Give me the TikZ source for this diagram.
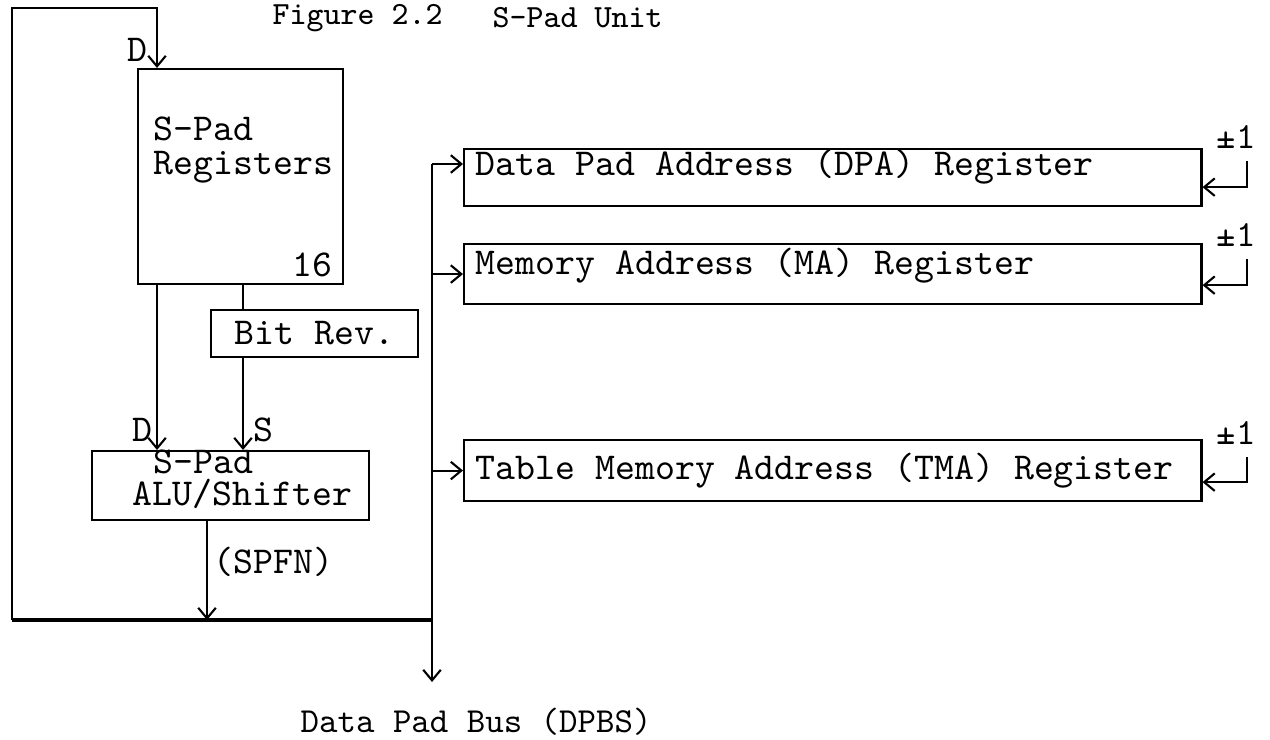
\documentclass[tikz,border=0pt]{standalone}
\usetikzlibrary{arrows.meta,positioning,calc}
\tikzset{
  blk/.style={draw,line width=0.6pt,anchor=north west,inner sep=0pt,
    font=\ttfamily\fontsize{10.8}{12}\selectfont},
  lbl/.style={font=\ttfamily\fontsize{#1}{#1}\selectfont,inner sep=0pt},
  lbl/.default=10.8,
  wire/.style={line width=0.6pt},
  bus/.style={line width=1.3pt}
}

\begin{document}
\begin{tikzpicture}[x=0.01cm,y=-0.01cm,>={Straight Barb[length=3pt,width=5pt]}]
  \useasboundingbox (0,0) rectangle (1270,740);
  % S-Pad side
  \node[blk,minimum width=2.05cm,minimum height=2.15cm] (reg) at (137,68) {};
  \node[blk,minimum width=2.07cm,minimum height=0.47cm] (bitrev) at (210,309) {Bit Rev.};
  \node[blk,minimum width=2.77cm,minimum height=0.69cm] (alu) at (91,450) {};
  \node[lbl,anchor=west,align=left,font=\ttfamily\fontsize{10.8}{9.7}\selectfont]
    (regT) at (153,150) {S-Pad\\Registers};
  \node[lbl,anchor=east] (regN) at (333,265) {16};
  \node[lbl,anchor=west,align=left,font=\ttfamily\fontsize{10.8}{9.1}\selectfont]
    (aluT) at (132,479) {\hspace*{0.21cm}S-Pad\\ALU/Shifter};
  % address registers
  \node[blk,minimum width=7.37cm,minimum height=0.57cm] (dpa) at (463,148) {};
  \node[blk,minimum width=7.37cm,minimum height=0.60cm] (ma) at (463,243) {};
  \node[blk,minimum width=7.37cm,minimum height=0.61cm] (tma) at (463,439) {};
  \node[lbl,anchor=west] (dpaT) at (475,167) {Data Pad Address (DPA) Register};
  \node[lbl,anchor=west] (maT) at (475,266) {Memory Address (MA) Register};
  \node[lbl,anchor=west] (tmaT) at (475,471) {Table Memory Address (TMA) Register};
  \node[lbl=10.5] (pmA) at (1236,137) {±1};
  \node[lbl=10.5] (pmB) at (1236,235) {±1};
  \node[lbl=10.5] (pmC) at (1236,433) {±1};
  % titles and small labels
  \node[lbl=9.2,anchor=west] (fig) at (272,18) {Figure 2.2};
  \node[lbl=9.2,anchor=west] (unit) at (492,18) {S-Pad Unit};
  \node[lbl=10,anchor=west] (dpbs) at (300,722) {Data Pad Bus (DPBS)};
  \node[lbl] (dTop) at (137,50) {D};
  \node[lbl] (dAlu) at (142,430) {D};
  \node[lbl] (sAlu) at (263,430) {S};
  \node[lbl,anchor=west] (spfn) at (213,562) {(SPFN)};

  % bus corners and taps
  \coordinate (busL) at (12,620);
  \coordinate (busR) at (432,620);
  \coordinate (busTop) at (432,164);
  \coordinate (busEnd) at (432,682);
  \coordinate (loopTop) at (157,8);
  \coordinate (sTap) at (243,0);
  \coordinate (fTap) at (207,620);

  \draw[bus] (busL) -- (busR);
  \draw[wire,->] (busTop) -- (busEnd);
  \draw[wire,->] (busL) |- (loopTop) -- (loopTop |- reg.north);
  \draw[wire,->] (loopTop |- reg.south) -- (loopTop |- alu.north);
  \draw[wire] (sTap |- reg.south) -- (sTap |- bitrev.north);
  \draw[wire,->] (sTap |- bitrev.south) -- (sTap |- alu.north);
  \draw[wire,->] (fTap |- alu.south) -- (fTap);

  \draw[wire,->] (busTop) -- (busTop -| dpa.west);
  \draw[wire,->] (busTop |- ma.west) -- (ma.west);
  \draw[wire,->] (busTop |- tma.west) -- (tma.west);

  % count up/down feedback
  \foreach \r/\p in {dpa/pmA,ma/pmB,tma/pmC}
    \draw[wire,->] ([xshift=0.11cm,yshift=-0.12cm]\p.south) |- ([yshift=0.2cm]\r.south east);
\end{tikzpicture}
\end{document}
